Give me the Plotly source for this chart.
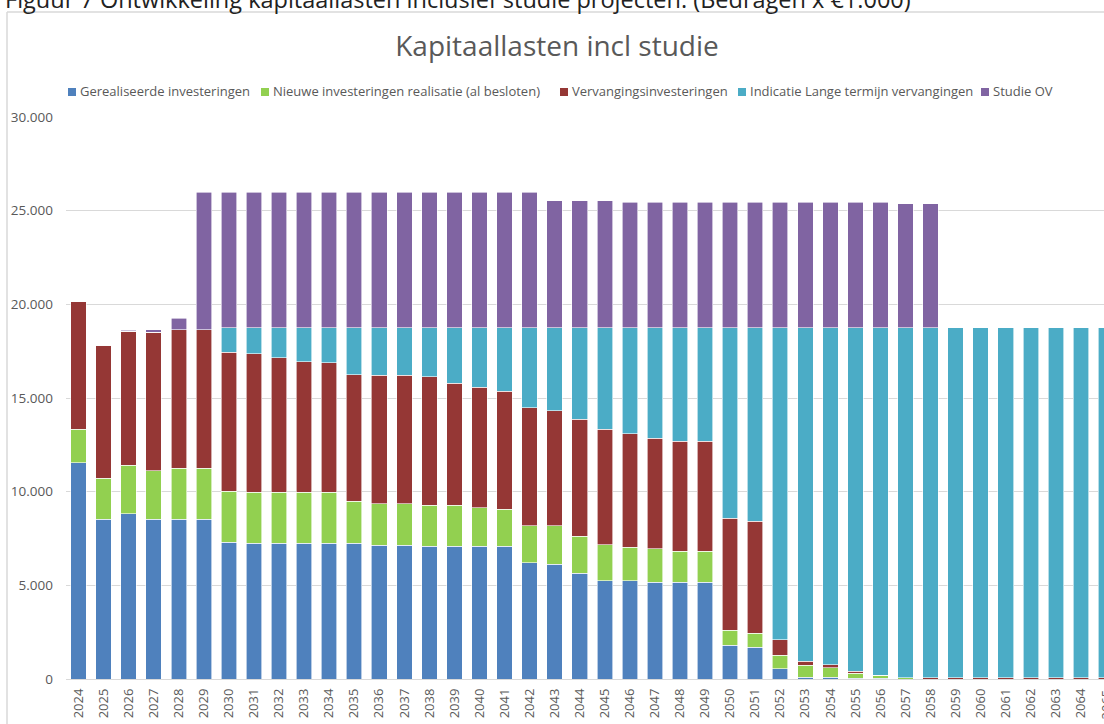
import plotly.graph_objects as go

# ---------------- data (bedragen x € 1.000) ----------------
years = [str(y) for y in range(2024, 2066)]

gerealiseerde = [11540, 8540, 8810, 8540, 8540, 8540,
                 7300, 7250, 7250, 7250, 7250, 7250,
                 7150, 7150, 7080, 7080, 7080, 7080,
                 6200, 6130, 5650, 5240, 5240, 5170,
                 5170, 5170, 1790, 1700, 550, 90,
                 90, 50, 50, 0, 0, 0,
                 0, 0, 0, 0, 0, 0]

nieuwe = [1780, 2170, 2590, 2590, 2720, 2720,
          2730, 2710, 2710, 2710, 2710, 2250,
          2200, 2200, 2190, 2190, 2060, 1990,
          1970, 2040, 1970, 1920, 1790, 1780,
          1640, 1640, 810, 750, 730, 640,
          510, 270, 150, 70, 0, 0,
          0, 0, 0, 0, 0, 0]

vervanging = [6820, 7100, 7160, 7390, 7390, 7390,
              7410, 7390, 7180, 6980, 6910, 6750,
              6860, 6860, 6860, 6530, 6440, 6290,
              6310, 6160, 6250, 6160, 6070, 5890,
              5880, 5880, 5990, 5980, 820, 230,
              150, 90, 0, 0, 70, 70,
              70, 70, 70, 70, 70, 70]

lange_termijn = [0, 0, 0, 0, 0, 0,
                 1300, 1390, 1600, 1800, 1870, 2490,
                 2530, 2530, 2610, 2940, 3160, 3380,
                 4260, 4410, 4870, 5420, 5640, 5900,
                 6050, 6050, 10150, 10310, 16640, 17780,
                 17990, 18330, 18540, 18670, 18670, 18670,
                 18670, 18670, 18670, 18670, 18670, 18670]

studie_ov = [0, 0, 60, 130, 620, 7340,
             7250, 7250, 7250, 7250, 7250, 7250,
             7250, 7250, 7250, 7250, 7250, 7250,
             7250, 6780, 6780, 6780, 6700, 6700,
             6700, 6700, 6700, 6710, 6710, 6710,
             6710, 6710, 6710, 6630, 6630, 0,
             0, 0, 0, 0, 0, 0]

series_names = ["Gerealiseerde investeringen",
                "Nieuwe investeringen realisatie (al besloten)",
                "Vervangingsinvesteringen",
                "Indicatie Lange termijn vervangingen",
                "Studie OV"]
series_values = [gerealiseerde, nieuwe, vervanging, lange_termijn, studie_ov]
series_colors = ["#4F81BD", "#92D050", "#953735", "#4BACC6", "#8064A2"]

y_ticks = [0, 5000, 10000, 15000, 20000, 25000, 30000]

title_text = "Kapitaallasten incl studie"
caption_text = "Figuur 7 Ontwikkeling kapitaallasten inclusief studie projecten. (Bedragen x €1.000)"

# ---------------- layout geometry ----------------
W, H = 1104, 724
L, R, T, B = 66, 0, 117, 45
PW, PH = W - L - R, H - T - B
FONT = "Open Sans"
GREY = "#595959"


def pxx(px):
    return (px - L) / PW


def pxy(py):
    return (H - B - py) / PH


fig = go.Figure()
for name, vals, col in zip(series_names, series_values, series_colors):
    fig.add_trace(go.Bar(
        x=years, y=vals, name=name,
        marker=dict(color=col, line=dict(color="rgba(255,255,255,0.75)", width=0.8)),
        showlegend=False,
    ))

cat_px = 25.06
x_right = -0.5 + PW / cat_px

shapes = []
annotations = []

# chart frame (left and top border of the Excel chart box)
shapes.append(dict(type="line", xref="paper", yref="paper",
                   x0=pxx(7), x1=pxx(7), y0=pxy(12), y1=pxy(730),
                   line=dict(color="#d9d9d9", width=1.5)))
shapes.append(dict(type="line", xref="paper", yref="paper",
                   x0=pxx(7), x1=pxx(1110), y0=pxy(12), y1=pxy(12),
                   line=dict(color="#d9d9d9", width=1.5)))

# manual legend (Excel-style small squares)
legend_sq_x = [68, 261, 560, 738, 981]
for name, col, sx in zip(series_names, series_colors, legend_sq_x):
    shapes.append(dict(type="rect", xref="paper", yref="paper",
                       x0=pxx(sx), x1=pxx(sx + 8), y0=pxy(96), y1=pxy(88),
                       fillcolor=col, line=dict(width=0)))
    annotations.append(dict(text=name, xref="paper", yref="paper",
                            x=pxx(sx + 10), y=pxy(91.5), xanchor="left", yanchor="middle",
                            showarrow=False, font=dict(family=FONT, size=13, color=GREY)))

# caption above the chart (cut off by the page top)
annotations.append(dict(text=caption_text, xref="paper", yref="paper",
                        x=pxx(3), y=pxy(17), xanchor="left", yanchor="bottom",
                        showarrow=False, font=dict(family=FONT, size=23.5, color="#222222")))

# partially visible last category label
annotations.append(dict(text=years[-1], xref="paper", yref="paper",
                        x=pxx(L + (len(years) - 1 + 0.5) * cat_px), y=pxy(704.5),
                        xanchor="center", yanchor="middle", textangle=-90,
                        showarrow=False, font=dict(family=FONT, size=13, color=GREY)))

fig.update_layout(
    width=W, height=H,
    margin=dict(l=L, r=R, t=T, b=B, pad=0),
    barmode="stack", bargap=0.38,
    paper_bgcolor="white", plot_bgcolor="white",
    separators=",.",
    font=dict(family=FONT, color=GREY),
    title=dict(text=title_text, x=557 / W, xanchor="center",
               y=1 - 46 / H, yanchor="middle",
               font=dict(family=FONT, size=28, color=GREY)),
    showlegend=False,
    shapes=shapes,
    annotations=annotations,
    xaxis=dict(type="category", range=[-0.5, x_right], tickangle=-90,
               tickfont=dict(family=FONT, size=13, color=GREY),
               showgrid=False, ticks="", showline=False, ticklabelstandoff=6),
    yaxis=dict(range=[0, 30000], tickvals=y_ticks, tickformat=",",
               tickfont=dict(family=FONT, size=13.5, color=GREY),
               showgrid=True, gridcolor="#d9d9d9", gridwidth=1,
               zeroline=True, zerolinecolor="#d9d9d9", zerolinewidth=1,
               ticks="", showline=False, ticklabelstandoff=12),
)

fig.write_html(
    "out.html",
    config={"displayModeBar": False},
    post_script="document.body.style.margin='0';document.body.style.overflow='hidden';",
)
